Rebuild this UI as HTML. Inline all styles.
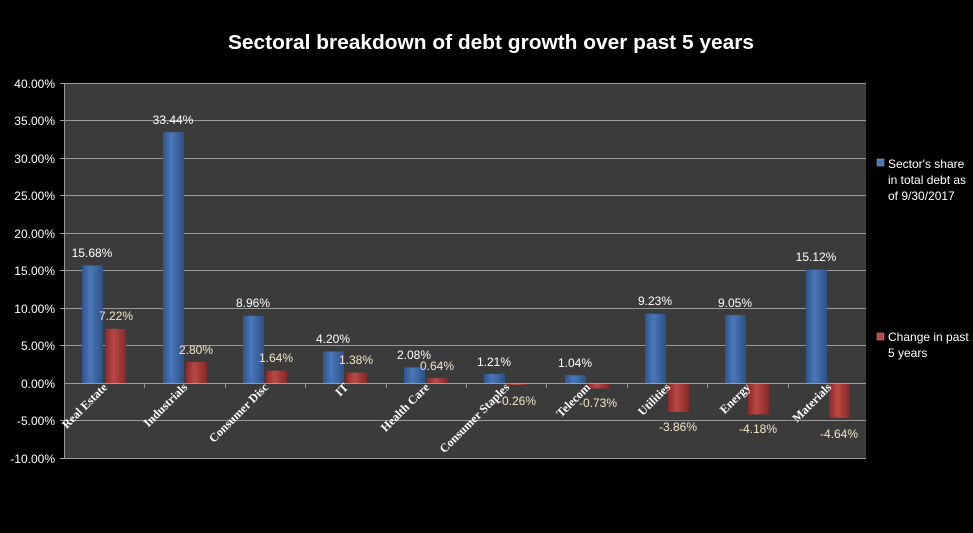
<!DOCTYPE html>
<html><head><meta charset="utf-8"><style>
body{margin:0;background:#000;}
svg{display:block;}
.t{font-family:"Liberation Sans",sans-serif;}
</style></head><body>
<svg width="973" height="533" xmlns="http://www.w3.org/2000/svg">
<defs>
<linearGradient id="b" x1="0" x2="1"><stop offset="0" stop-color="#2f5590"/><stop offset="0.4" stop-color="#4a78b8"/><stop offset="1" stop-color="#2c5088"/></linearGradient>
<linearGradient id="r" x1="0" x2="1"><stop offset="0" stop-color="#8a2a28"/><stop offset="0.4" stop-color="#b84844"/><stop offset="1" stop-color="#862826"/></linearGradient>
</defs>
<rect width="973" height="533" fill="#000"/>
<text x="491" y="49" text-anchor="middle" class="t" font-size="20.5" font-weight="bold" fill="#fff" textLength="526" lengthAdjust="spacingAndGlyphs">Sectoral breakdown of debt growth over past 5 years</text>
<rect x="64" y="83" width="802" height="375" fill="#3b3b3b"/>
<g stroke="#9a9a9a" stroke-width="1">
<line x1="60" x2="866" y1="83.5" y2="83.5"/><line x1="60" x2="866" y1="120.5" y2="120.5"/><line x1="60" x2="866" y1="158.5" y2="158.5"/><line x1="60" x2="866" y1="195.5" y2="195.5"/><line x1="60" x2="866" y1="233.5" y2="233.5"/><line x1="60" x2="866" y1="270.5" y2="270.5"/><line x1="60" x2="866" y1="308.5" y2="308.5"/><line x1="60" x2="866" y1="345.5" y2="345.5"/><line x1="60" x2="866" y1="420.5" y2="420.5"/><line x1="60" x2="866" y1="458.5" y2="458.5"/>
<line x1="64.5" x2="64.5" y1="83" y2="458"/>
</g>
<g class="t" font-size="12" fill="#fff" text-anchor="end">
<text x="55" y="88">40.00%</text><text x="55" y="125">35.00%</text><text x="55" y="163">30.00%</text><text x="55" y="200">25.00%</text><text x="55" y="238">20.00%</text><text x="55" y="275">15.00%</text><text x="55" y="313">10.00%</text><text x="55" y="350">5.00%</text><text x="55" y="388">0.00%</text><text x="55" y="425">-5.00%</text><text x="55" y="463">-10.00%</text>
</g>
<g fill="url(#b)">
<rect x="82" y="265.4" width="21" height="117.6"/>
<rect x="163" y="132.2" width="21" height="250.8"/>
<rect x="243" y="315.8" width="21" height="67.2"/>
<rect x="323" y="351.5" width="21" height="31.5"/>
<rect x="404" y="367.4" width="21" height="15.6"/>
<rect x="484" y="373.9" width="21" height="9.1"/>
<rect x="565" y="375.2" width="21" height="7.8"/>
<rect x="645" y="313.8" width="21" height="69.2"/>
<rect x="725" y="315.1" width="21" height="67.9"/>
<rect x="806" y="269.6" width="21" height="113.4"/>
</g>
<g fill="url(#r)">
<rect x="105" y="328.9" width="21" height="54.1"/>
<rect x="186" y="362" width="21" height="21"/>
<rect x="266" y="370.7" width="21" height="12.3"/>
<rect x="346" y="372.6" width="21" height="10.4"/>
<rect x="427" y="378.2" width="21" height="4.8"/>
<rect x="507" y="383" width="21" height="2"/>
<rect x="588" y="383" width="21" height="5.5"/>
<rect x="668" y="383" width="21" height="29"/>
<rect x="748" y="383" width="21" height="31.4"/>
<rect x="829" y="383" width="21" height="34.8"/>
</g>
<line x1="64" x2="866" y1="383.5" y2="383.5" stroke="#9a9a9a"/>
<g stroke="#9a9a9a"><line x1="144.5" x2="144.5" y1="383" y2="388"/><line x1="225.5" x2="225.5" y1="383" y2="388"/><line x1="305.5" x2="305.5" y1="383" y2="388"/><line x1="386.5" x2="386.5" y1="383" y2="388"/><line x1="466.5" x2="466.5" y1="383" y2="388"/><line x1="546.5" x2="546.5" y1="383" y2="388"/><line x1="627.5" x2="627.5" y1="383" y2="388"/><line x1="707.5" x2="707.5" y1="383" y2="388"/><line x1="788.5" x2="788.5" y1="383" y2="388"/></g>
<g class="t" font-size="12" fill="#fff" text-anchor="middle">
<text x="92" y="257">15.68%</text><text x="173" y="124">33.44%</text><text x="253" y="307">8.96%</text><text x="333" y="343">4.20%</text><text x="414" y="359">2.08%</text><text x="494" y="366">1.21%</text><text x="575" y="367">1.04%</text><text x="655" y="305">9.23%</text><text x="735" y="307">9.05%</text><text x="816" y="261">15.12%</text>
</g>
<g class="t" font-size="12" fill="#f3e6c8" text-anchor="middle">
<text x="116" y="320">7.22%</text><text x="196" y="354">2.80%</text><text x="276" y="362">1.64%</text><text x="356" y="364">1.38%</text><text x="437" y="370">0.64%</text><text x="517" y="405">-0.26%</text><text x="598" y="407">-0.73%</text><text x="678" y="431">-3.86%</text><text x="758" y="433">-4.18%</text><text x="839" y="438">-4.64%</text>
</g>
<g font-family="'Liberation Serif',serif" font-weight="bold" font-size="12" fill="#fff" text-anchor="end">
<text transform="translate(108,388) rotate(-45)">Real Estate</text>
<text transform="translate(188,388) rotate(-45)">Industrials</text>
<text transform="translate(269,388) rotate(-45)">Consumer Disc</text>
<text transform="translate(349,388) rotate(-45)">IT</text>
<text transform="translate(430,388) rotate(-45)">Health Care</text>
<text transform="translate(510,388) rotate(-45)">Consumer Staples</text>
<text transform="translate(591,388) rotate(-45)">Telecom</text>
<text transform="translate(671,388) rotate(-45)">Utilities</text>
<text transform="translate(751,388) rotate(-45)">Energy</text>
<text transform="translate(832,388) rotate(-45)">Materials</text>
</g>
<rect x="877" y="159" width="7" height="7" fill="#4a78b8" stroke="#8aa8d8" stroke-width="0.5"/>
<rect x="877" y="333" width="7" height="7" fill="#b84844" stroke="#d88" stroke-width="0.5"/>
<g class="t" font-size="12" fill="#fff">
<text x="888" y="168">Sector's share</text><text x="888" y="184">in total  debt as</text><text x="888" y="200">of 9/30/2017</text>
<text x="888" y="341">Change in  past</text><text x="888" y="357">5 years</text>
</g>
</svg>
</body></html>
